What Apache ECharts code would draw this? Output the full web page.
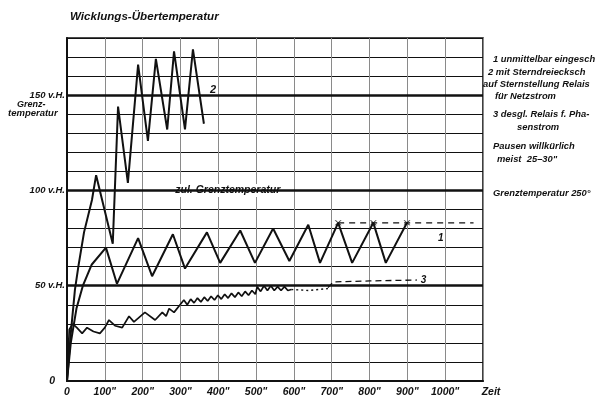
<!DOCTYPE html>
<html>
<head>
<meta charset="utf-8">
<script src="https://cdn.jsdelivr.net/npm/echarts@6/dist/echarts.min.js"></script>
<style>
html,body{margin:0;padding:0;background:#fff;}
#c{width:602px;height:400px;}
</style>
</head>
<body>
<div id="c"></div>
<script>
// ---- data ----
const xTicks = [0,100,200,300,400,500,600,700,800,900,1000,1100];
const yMarked = [0,50,100,150];

const curve1T = [0,10,25,42,65,103,132,188,225,280,312,370,405,458,497,545,588,638,669,717,754,810,843,899];
const curve1V = [0,20,38,50,61,70,51,75,55,77,59,78,62,79,62,80,63,82,62,83,62,83,62,83];
const curve1ExtT = [717,1075];
const curve1ExtV = [83,83];
const curve1MarkT = [717,810,899];
const curve1MarkV = [83,83,83];

const curve2T = [0,10,21,30,45,66,77,121,135,161,188,214,235,265,283,312,333,362];
const curve2V = [0,25,48,60,78,95,108,72,144,104,166,126,169,132,173,132,174,135];

const curve3T = [0,6,15,26,40,53,70,87,100,111,127,146,164,177,206,233,252,262,270,283,299,
  309,318,327,336,345,354,363,372,381,390,399,408,417,426,435,444,453,462,471,480,489,498,
  503,512,521,530,539,548,557,566,575,584,593];
const curve3V = [0,27,30,28,25,28,26,25,28,32,29,28,34,31,36,32,36,34,38,36,40,
  42.5,40,43,41,43.5,41.5,44,42,44.5,42.5,45,43,45.5,43.5,46,44,46.5,44.5,47,45,47.5,45.5,
  49.5,47,50,47.5,50,47.5,49.5,47.5,49.5,47.5,48];
const curve3DotT = [593,640,690];
const curve3DotV = [48,47.5,48.5];
const curve3DashT = [690,704,800,925];
const curve3DashV = [49,52,52.5,53];

const limitLine = 100;
const limitLabelT = 425;

const rightNotes = [
  '1 unmittelbar eingesch',
  '2 mit Sterndreiecksch',
  'auf Sternstellung Relais',
  'für Netzstrom',
  '3 desgl. Relais f. Pha-',
  'senstrom',
  'Pausen willkürlich',
  'meist  25–30"',
  'Grenztemperatur 250°'
];

// ---- helpers ----
const zip = (t, v) => t.map((x, i) => [x, v[i]]);
const FONT = '"Liberation Sans", Arial, sans-serif';
const ink = '#111';

const chart = echarts.init(document.getElementById('c'), null, {renderer: 'canvas'});

const option = {
  animation: false,
  backgroundColor: '#fff',
  grid: {left: 67, right: 119, top: 38, bottom: 19, show: true, borderColor: ink, borderWidth: 1.6, backgroundColor: 'transparent'},
  xAxis: {
    type: 'value', min: 0, max: 1100, interval: 100,
    axisLine: {show: true, lineStyle: {color: ink, width: 2}},
    axisTick: {show: false},
    splitLine: {show: true, lineStyle: {color: '#8a8a8a', width: 1}},
    axisLabel: {
      margin: 6, color: ink, fontFamily: FONT, fontStyle: 'italic', fontWeight: 'bold', fontSize: 10.5,
      formatter: v => v === 0 ? '0' : (v === 1100 ? '{z|Zeit}' : v + '"'),
      rich: {z: {padding: [0, 0, 0, 16], fontFamily: FONT, fontStyle: 'italic', fontWeight: 'bold', fontSize: 10.5, color: ink}}
    }
  },
  yAxis: {
    type: 'value', min: 0, max: 180, interval: 10,
    axisLine: {show: true, lineStyle: {color: ink, width: 2}},
    axisTick: {show: false},
    splitLine: {show: true, lineStyle: {color: ink, width: 1.1}},
    axisLabel: {
      margin: 2, color: ink, fontFamily: FONT, fontStyle: 'italic', fontWeight: 'bold', fontSize: 9.5,
      formatter: v => v === 0 ? '{o|0}' : (yMarked.indexOf(v) >= 0 ? v + ' v.H.' : ''),
      rich: {o: {padding: [0, 10, 0, 0], fontFamily: FONT, fontStyle: 'italic', fontWeight: 'bold', fontSize: 10.5, color: ink}}
    }
  },
  series: [
    {
      type: 'line', data: [], silent: true,
      markLine: {
        silent: true, symbol: ['none', 'none'], label: {show: false},
        lineStyle: {color: ink, width: 2.6, type: 'solid'},
        data: [{yAxis: 50}, {yAxis: 100}, {yAxis: 150}]
      }
    },
    {type: 'line', data: zip(curve1T, curve1V), symbol: 'none', lineStyle: {color: ink, width: 2}},
    {type: 'line', data: zip(curve1ExtT, curve1ExtV), symbol: 'none', lineStyle: {color: ink, width: 1.3, type: [6, 5]}},
    {type: 'scatter', data: zip(curve1MarkT, curve1MarkV), symbol: 'path://M0,0L2,0L5,3L8,0L10,0L6,4L10,8L8,8L5,5L2,8L0,8L4,4Z', symbolSize: [7, 5], itemStyle: {color: ink}},
    {type: 'line', data: zip(curve2T, curve2V), symbol: 'none', lineStyle: {color: ink, width: 2}},
    {type: 'line', data: zip(curve3T, curve3V), symbol: 'none', lineStyle: {color: ink, width: 1.7}},
    {type: 'line', data: zip(curve3DotT, curve3DotV), symbol: 'none', lineStyle: {color: ink, width: 1.4, type: [2, 3]}},
    {type: 'line', data: zip(curve3DashT, curve3DashV), symbol: 'none', lineStyle: {color: ink, width: 1.3, type: [6, 4]}}
  ]
};
chart.setOption(option);

const px = (t, v) => chart.convertToPixel({gridIndex: 0}, [t, v]);
const txt = (text, x, y, size, extra) => Object.assign({
  type: 'text', x: x, y: y, silent: true,
  style: Object.assign({text: text, fill: ink, fontFamily: FONT, fontStyle: 'italic', fontWeight: 'bold', fontSize: size, verticalAlign: 'middle', align: 'left'}, extra || {})
});

const lim = px(limitLabelT, limitLine);
const c2end = px(curve2T[curve2T.length - 1], curve2V[curve2V.length - 1]);
const c1end = px(curve1ExtT[0] + 227, curve1ExtV[0] - 8);
const c3end = px(curve3DashT[curve3DashT.length - 1], curve3DashV[curve3DashV.length - 1]);

const noteX = [493, 488, 483, 495, 493, 517, 493, 497, 493];
const noteY = [59, 72, 84, 96, 114, 127, 146, 159, 193];

const graphics = [
  txt('Wicklungs-Übertemperatur', 70, 17, 11.6),
  txt('Grenz-', 17, 105, 9),
  txt('temperatur', 8, 113.5, 9.5),
  txt('zul. Grenztemperatur', lim[0], lim[1], 10.5, {align: 'center', backgroundColor: '#fff', padding: [1, 3, 1, 3]}),
  txt('2', c2end[0] + 6, c2end[1] - 34, 11),
  txt('1', c1end[0] + 14, c1end[1], 10),
  txt('3', c3end[0] + 4, c3end[1], 10)
];
rightNotes.forEach((n, i) => graphics.push(txt(n, noteX[i], noteY[i], 9.4)));

chart.setOption({graphic: graphics});
</script>
</body>
</html>
